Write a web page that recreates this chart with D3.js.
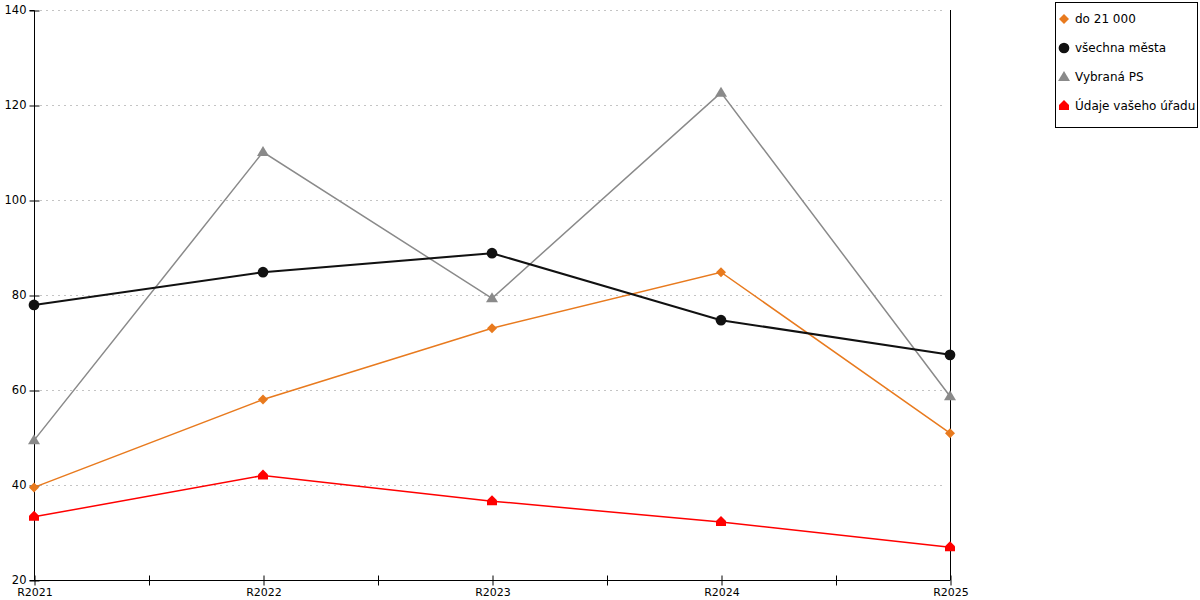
<!DOCTYPE html>
<html><head><meta charset="utf-8">
<script src="https://cdn.jsdelivr.net/npm/d3@7"></script>
<style>body{margin:0;background:#fff}svg{display:block}text{font-family:"DejaVu Sans",Verdana,sans-serif}</style>
</head><body><svg id="c" width="1200" height="600"></svg>
<script>
const categories = ["R2021","R2022","R2023","R2024","R2025"];
const seriesNames = ["do 21 000","všechna města","Vybraná PS","Údaje vašeho úřadu"];
const orangeValues = [39.5, 58.0, 73.0, 84.8, 50.9];
const blackValues  = [77.9, 84.8, 88.8, 74.7, 67.4];
const grayValues   = [49.4, 110.1, 79.3, 122.6, 58.7];
const redValues    = [33.3, 42.0, 36.6, 32.2, 26.9];
const yTicks = [20,40,60,80,100,120,140];

const series = [
  {name: seriesNames[0], values: orangeValues, color:"#e87a1e", width:1.5, shape:"diamond"},
  {name: seriesNames[1], values: blackValues, color:"#111", width:2, shape:"circle"},
  {name: seriesNames[2], values: grayValues, color:"#8a8a8a", width:1.5, shape:"triangle"},
  {name: seriesNames[3], values: redValues, color:"#ff0000", width:1.5, shape:"house"}
];

const svg = d3.select("#c");
const L=34, R=950, T=10, B=580;
const x = d3.scaleLinear().domain([0, categories.length-1]).range([L,R]);
const y = d3.scaleLinear().domain([20,140]).range([B,T]);

// grid
svg.append("g").selectAll("line").data(yTicks.slice(1)).join("line")
  .attr("x1",L+6).attr("x2",R-4).attr("y1",d=>y(d)+0.5).attr("y2",d=>y(d)+0.5)
  .attr("stroke","#c4c4c4").attr("stroke-dasharray","2,4").attr("stroke-width",1);

// y axis
const yAxis = d3.axisLeft(y).tickValues(yTicks).tickSize(5).tickPadding(3).tickFormat(d3.format("d"));
const gy = svg.append("g").attr("transform",`translate(${L+0.5},0.5)`).call(yAxis);
gy.select(".domain").attr("d",`M-5,${T}H0V${B}H-5`).attr("stroke","#000");
gy.selectAll(".tick line").attr("x1",-5).attr("x2",5);
gy.selectAll("text").attr("font-size",11.5).attr("fill","#000").attr("dy","0.3em").style("font-family","DejaVu Sans, Verdana, sans-serif");

// x axis
const halfTicks = d3.range(0, (categories.length-1)*2+1).map(i=>i/2);
const xAxis = d3.axisBottom(x).tickValues(halfTicks).tickSize(0).tickPadding(8)
  .tickFormat(d=> Number.isInteger(d)? categories[d] : "");
const gx = svg.append("g").attr("transform",`translate(0.5,${B+0.5})`).call(xAxis);
gx.select(".domain").attr("d",`M${L},0H${R}`).attr("stroke","#000");
gx.selectAll(".tick line").attr("y1",-5).attr("y2",5).attr("stroke","#000");
gx.selectAll("text").attr("font-size",11).attr("fill","#000").attr("dy","0.71em").style("font-family","DejaVu Sans, Verdana, sans-serif");

// right vertical line
svg.append("line").attr("x1",R+0.5).attr("x2",R+0.5).attr("y1",T).attr("y2",B).attr("stroke","#000");

function symbolPath(shape, s){
  if(shape==="diamond") return `M0,${-s}L${s},0L0,${s}L${-s},0Z`;
  if(shape==="circle") return d3.symbol(d3.symbolCircle, 90)();
  if(shape==="triangle") return `M0,${-s-1}L${s+1},${s-1}L${-s-1},${s-1}Z`;
  if(shape==="house") return `M0,${-s-1}L${s},${-1}L${s},${s-1}L${-s},${s-1}L${-s},${-1}Z`;
}

const line = d3.line().x((d,i)=>x(i)).y(d=>y(d));
const order = [2,0,1,3];
order.forEach(k=>{
  const s = series[k];
  svg.append("path").attr("d", line(s.values)).attr("fill","none").attr("stroke",s.color).attr("stroke-width",s.width);
});
order.forEach(k=>{
  const s = series[k];
  svg.append("g").selectAll("path").data(s.values).join("path")
    .attr("transform",(d,i)=>`translate(${x(i)},${y(d)})`)
    .attr("d", symbolPath(s.shape, 5)).attr("fill", s.color);
});

// legend
const lg = svg.append("g");
lg.append("rect").attr("x",1055.5).attr("y",2.5).attr("width",142).attr("height",125).attr("fill","#fff").attr("stroke","#000");
series.forEach((s,i)=>{
  const cy = 19 + i*29;
  lg.append("path").attr("transform",`translate(1064,${cy})`).attr("d",symbolPath(s.shape,5)).attr("fill",s.color);
  lg.append("text").attr("x",1075).attr("y",cy).attr("dy","0.35em").attr("font-size",12).attr("fill","#000").text(s.name);
});
</script></body></html>
